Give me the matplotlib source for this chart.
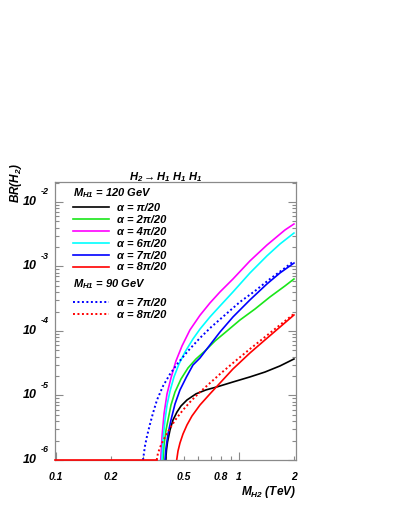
import math
import matplotlib
matplotlib.use("Agg")
import matplotlib.pyplot as plt
from matplotlib.ticker import FixedLocator, NullFormatter, FuncFormatter

plt.rcParams['font.family'] = ['Liberation Sans', 'DejaVu Sans']
plt.rcParams['font.weight'] = 'bold'
plt.rcParams['font.style'] = 'italic'
plt.rcParams['mathtext.fontset'] = 'custom'
plt.rcParams['mathtext.rm'] = 'Liberation Sans:italic:bold'
plt.rcParams['mathtext.it'] = 'Liberation Sans:italic:bold'
plt.rcParams['mathtext.bf'] = 'Liberation Sans:italic:bold'

# ---------------- data (M_H2 in TeV, BR(H2 -> H1 H1 H1)) ----------------
# M_H1 = 120 GeV
x_a1 = [0.3976, 0.4016, 0.4068, 0.4198, 0.4358, 0.4584, 0.482, 0.5197, 0.5821, 0.66, 0.7584, 0.9273, 1.148, 1.387, 1.675, 1.998]
y_a1 = [1e-6, 1.43e-6, 1.9e-6, 2.92e-6, 4.17e-6, 5.55e-6, 6.88e-6, 8.52e-6, 1.06e-5, 1.22e-5, 1.36e-5, 1.62e-5, 1.94e-5, 2.31e-5, 2.87e-5, 3.68e-5]

x_a2 = [0.3844, 0.3893, 0.3992, 0.4093, 0.425, 0.4469, 0.482, 0.5263, 0.5821, 0.6517, 0.7397, 0.8598, 1.0127, 1.223, 1.477, 1.784, 1.998]
y_a2 = [1e-6, 1.71e-6, 2.92e-6, 4.17e-6, 7.12e-6, 1.13e-5, 1.8e-5, 2.67e-5, 3.68e-5, 4.9e-5, 7.0e-5, 1.0e-4, 1.48e-4, 2.19e-4, 3.37e-4, 4.99e-4, 6.4e-4]

x_a4 = [0.3733, 0.3796, 0.3893, 0.4043, 0.425, 0.4524, 0.4882, 0.5398, 0.612, 0.6941, 0.7874, 0.9273, 1.148, 1.422, 1.784, 1.998]
y_a4 = [1e-6, 2.27e-6, 5.17e-6, 1.06e-5, 1.87e-5, 3.43e-5, 5.86e-5, 1.04e-4, 1.75e-4, 2.72e-4, 4.03e-4, 6.4e-4, 1.22e-3, 2.15e-3, 3.68e-3, 4.56e-3]

x_a6 = [0.3796, 0.3844, 0.3942, 0.4043, 0.4198, 0.4413, 0.47, 0.5069, 0.5605, 0.612, 0.6941, 0.7874, 0.9273, 1.148, 1.422, 1.675, 1.998]
y_a6 = [1e-6, 2.04e-6, 4.17e-6, 7.12e-6, 1.17e-5, 1.94e-5, 3.08e-5, 4.72e-5, 7.52e-5, 1.07e-4, 1.65e-4, 2.44e-4, 4.03e-4, 7.93e-4, 1.46e-3, 2.23e-3, 3.3e-3]

x_a7 = [0.3942, 0.3992, 0.4093, 0.425, 0.4469, 0.476, 0.5164, 0.5605, 0.612, 0.6941, 0.7874, 0.9273, 1.148, 1.422, 1.675, 1.998]
y_a7 = [1e-6, 1.53e-6, 2.53e-6, 4.17e-6, 7.38e-6, 1.22e-5, 1.94e-5, 2.97e-5, 3.81e-5, 6.07e-5, 9.64e-5, 1.65e-4, 3.03e-4, 5.36e-4, 7.93e-4, 1.13e-3]

x_a8 = [0.4566, 0.4642, 0.476, 0.4943, 0.5197, 0.5534, 0.612, 0.6941, 0.7874, 0.9273, 1.148, 1.387, 1.675, 1.998]
y_a8 = [1e-6, 1.38e-6, 1.84e-6, 2.53e-6, 3.49e-6, 4.81e-6, 7.12e-6, 1.06e-5, 1.56e-5, 2.58e-5, 4.56e-5, 7.26e-5, 1.15e-4, 1.77e-4]

# M_H1 = 90 GeV
x_b7 = [0.2988, 0.3063, 0.3144, 0.3264, 0.3389, 0.3563, 0.3844, 0.4198, 0.4642, 0.5263, 0.612, 0.7049, 0.8386, 1.0127, 1.223, 1.477, 1.784, 1.998]
y_b7 = [1e-6, 1.65e-6, 2.36e-6, 3.61e-6, 5.35e-6, 8.52e-6, 1.4e-5, 2.15e-5, 3.19e-5, 4.9e-5, 7.79e-5, 1.15e-4, 1.77e-4, 2.82e-4, 4.17e-4, 6.4e-4, 9.48e-4, 1.22e-3]

x_b8 = [0.355, 0.3608, 0.3748, 0.3942, 0.4198, 0.4524, 0.4943, 0.5465, 0.612, 0.6941, 0.7874, 0.9273, 1.148, 1.387, 1.675, 1.998]
y_b8 = [1e-6, 1.28e-6, 1.71e-6, 2.27e-6, 3.13e-6, 4.32e-6, 5.96e-6, 8.22e-6, 1.13e-5, 1.56e-5, 2.15e-5, 3.19e-5, 5.26e-5, 8.07e-5, 1.24e-4, 1.84e-4]

labels_120 = ["α = π/20", "α = 2π/20", "α = 4π/20", "α = 6π/20", "α = 7π/20", "α = 8π/20"]
labels_90 = ["α = 7π/20", "α = 8π/20"]
xtick_major = [0.1, 1.0]
xtick_minor = [0.2, 0.3, 0.4, 0.5, 0.6, 0.7, 0.8, 0.9, 2.0]
xtick_labeled = [0.1, 0.2, 0.5, 0.8, 1.0, 2.0]
ydecades = [1e-6, 1e-5, 1e-4, 1e-3, 1e-2]

XLIM = (0.0987, 2.05)
YLIM = (1e-6, 2.04e-2)

# ---------------- figure ----------------
fig = plt.figure(figsize=(3.99, 5.16), dpi=100)
ax = fig.add_axes([55/399, (516-460)/516, (296-55)/399, (460-182)/516])
ax.set_xscale('log')
ax.set_yscale('log')
ax.set_xlim(*XLIM)
ax.set_ylim(*YLIM)

lw = 1.2
dot = (0, (1.0, 1.3))
c_green = '#19e619'
c_mag = '#ff00ff'
c_cyan = '#00ffff'
c_blue = '#0000ff'
c_red = '#ff0000'

h1, = ax.plot(x_a1, y_a1, color='black', lw=lw, clip_on=False)
h2, = ax.plot(x_a2, y_a2, color=c_green, lw=lw, clip_on=False)
h4, = ax.plot(x_a4, y_a4, color=c_mag, lw=lw, clip_on=False)
h6, = ax.plot(x_a6, y_a6, color=c_cyan, lw=lw, clip_on=False)
h7, = ax.plot(x_a7, y_a7, color=c_blue, lw=lw, clip_on=False)
h8, = ax.plot(x_a8, y_a8, color=c_red, lw=lw, clip_on=False)
g7, = ax.plot(x_b7, y_b7, color=c_blue, lw=1.4, ls=dot, clip_on=False)
g8, = ax.plot(x_b8, y_b8, color=c_red, lw=1.4, ls=dot, clip_on=False)
# below threshold the branching ratio sits at the plot floor
ax.plot([XLIM[0], x_b8[0]], [YLIM[0], YLIM[0]], color=c_red, lw=lw, clip_on=False, zorder=3)

# ---------------- axes styling ----------------
gray = '#8a8a8a'
for s in ax.spines.values():
    s.set_color(gray)
    s.set_linewidth(0.9)

ax.xaxis.set_major_locator(FixedLocator(xtick_major))
ax.xaxis.set_minor_locator(FixedLocator(xtick_minor))
fmt = lambda v, p: (('%g' % v) if any(abs(v - t) < 1e-9 for t in xtick_labeled) else '')
ax.xaxis.set_major_formatter(FuncFormatter(fmt))
ax.xaxis.set_minor_formatter(FuncFormatter(fmt))
ax.tick_params(axis='x', which='major', direction='in', length=6, width=0.8, color=gray,
               labelsize=7.5, pad=9, top=False)
ax.tick_params(axis='x', which='minor', direction='in', length=3, width=0.8, color=gray,
               labelsize=7.5, pad=9, top=False)

ax.yaxis.set_major_locator(FixedLocator(ydecades))
ax.yaxis.set_minor_locator(FixedLocator([m * d for d in ydecades for m in range(2, 10)]))
ax.yaxis.set_major_formatter(NullFormatter())
ax.yaxis.set_minor_formatter(NullFormatter())
ax.tick_params(axis='y', which='major', direction='in', length=6, width=0.8, color=gray, right=True)
ax.tick_params(axis='y', which='minor', direction='in', length=3, width=0.8, color=gray, right=True)

ytr = ax.get_yaxis_transform()
for d in ydecades:
    e = int(round(math.log10(d)))
    ax.annotate('10', xy=(0, d), xycoords=ytr, xytext=(-18, 0), textcoords='offset pixels',
                ha='right', va='center', fontsize=9)
    ax.annotate('%d' % e, xy=(0, d), xycoords=ytr, xytext=(-14, 10), textcoords='offset pixels',
                ha='left', va='center', fontsize=6.5)

ax.text(-0.162, (460-163)/278, r'$BR(H_2)$', transform=ax.transAxes, rotation=90,
        ha='center', va='top', fontsize=8.5)
ax.text(1.0, (460-492)/278, r'$M_{H2}$ (TeV)', transform=ax.transAxes,
        ha='right', va='center', fontsize=8.5)
ax.text((166-55)/241, (460-177)/278, r'$H_2 \rightarrow H_1\ H_1\ H_1$', transform=ax.transAxes,
        ha='center', va='center', fontsize=8)

# ---------------- legends ----------------
ax.text((73-55)/241, (460-193)/278, r'$M_{H1}$ = 120 GeV', transform=ax.transAxes,
        ha='left', va='center', fontsize=8)
ax.text((73-55)/241, (460-284)/278, r'$M_{H1}$ = 90 GeV', transform=ax.transAxes,
        ha='left', va='center', fontsize=8)
leg_kw = dict(frameon=False, fontsize=8, handlelength=3.2, handletextpad=0.75,
              labelspacing=0.17, borderpad=0, borderaxespad=0, loc='upper left')
leg1 = ax.legend([h1, h2, h4, h6, h7, h8], labels_120,
                 bbox_to_anchor=((73-55)/241, (460-203)/278), **leg_kw)
ax.add_artist(leg1)
leg2 = ax.legend([g7, g8], labels_90,
                 bbox_to_anchor=((73-55)/241, (460-298)/278), **leg_kw)

fig.savefig('out.png', dpi=100)
